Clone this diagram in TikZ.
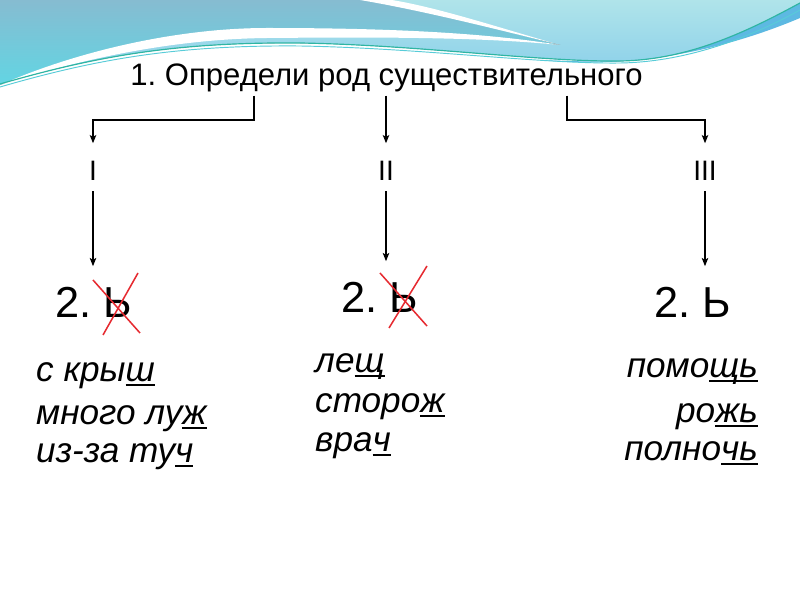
\documentclass[tikz,border=0pt]{standalone}
\usepackage{fontspec}
\setmainfont{Liberation Sans}
\frenchspacing
\usetikzlibrary{arrows.meta, positioning, calc}
\definecolor{tealtop}{HTML}{86BCD1}
\definecolor{cyanlow}{HTML}{62D5E3}
\definecolor{skylight}{HTML}{B0E4EA}
\definecolor{skyblue}{HTML}{86CDEA}
\definecolor{bandblue}{HTML}{5DB9E2}
\definecolor{waveline}{HTML}{2FB5A3}
\definecolor{waveline2}{HTML}{58CCD8}
\definecolor{crossred}{HTML}{E62A30}
\newcommand{\und}[1]{\setbox0\hbox{#1}\rlap{\rule[-0.12em]{\wd0}{0.06em}}\box0}
\tikzset{
  heading/.style={font=\fontsize{26.5}{30}\selectfont, inner sep=0pt, text depth=8pt},
  numeral/.style={font=\fontsize{24}{28}\selectfont, inner sep=0pt, text height=32pt, text depth=8.5pt},
  rule2/.style={font=\fontsize{37}{44}\selectfont, inner sep=0pt, text height=44pt, text depth=0pt},
  word/.style={font=\fontsize{30}{34}\selectfont\itshape, inner sep=0pt},
  arrow/.style={-{Stealth[length=7pt, width=5.5pt, inset=1.5pt]}, line width=1.1pt, black},
  cross/.style={crossred, line width=1.3pt},
}
\begin{document}
\begin{tikzpicture}[x=0.03cm, y=-0.03cm]
% backdrop with waves
\useasboundingbox (0,0) rectangle (800,600);
\fill[white] (0,0) rectangle (800,600);
\fill[top color=skylight, bottom color=skyblue] (0,0) -- (800,0) -- (800,3)
  .. controls (750,30) and (690,60) .. (620,61) .. controls (540,62) and (420,45) .. (300,43)
  .. controls (180,42) and (100,55) .. (0,84) -- cycle;
\fill[top color=tealtop, bottom color=cyanlow] (0,0) -- (375,0)
  .. controls (440,12) and (500,30) .. (560,45) .. controls (480,34) and (380,32) .. (267,33)
  .. controls (180,33) and (85,52) .. (0,85) -- cycle;
\fill[white] (360,0) .. controls (420,10) and (500,30) .. (560,45)
  .. controls (500,28) and (440,8) .. (392,0) -- cycle;
\fill[white] (0,85) .. controls (80,50) and (180,28) .. (267,28) .. controls (380,28) and (480,32) .. (560,45)
  .. controls (480,37) and (380,37) .. (267,38) .. controls (180,39) and (90,56) .. (0,85) -- cycle;
\fill[bandblue] (540,60) .. controls (620,68) and (710,56) .. (800,18) -- (800,3)
  .. controls (750,30) and (690,60) .. (620,61) .. controls (590,62) and (565,61) .. (540,60) -- cycle;
\draw[waveline, line width=1pt] (0,84) .. controls (100,55) and (180,42) .. (300,43)
  .. controls (420,45) and (540,62) .. (620,61) .. controls (690,60) and (750,30) .. (800,3);
\draw[waveline2, line width=0.8pt] (0,87) .. controls (100,58) and (180,45) .. (300,46)
  .. controls (420,48) and (540,64) .. (620,63) .. controls (690,62) and (755,35) .. (800,10);

% heading and genders
\node[heading, anchor=base] (title) at (386.5,86) {1. Определи род существительного};
\node[numeral, anchor=base] (gI) at (93,181) {I};
\node[numeral, anchor=base] (gII) at (386,181) {II};
\node[numeral, anchor=base] (gIII) at (705,181) {III};
\coordinate (kI) at (254,120);
\coordinate (kIII) at (567,120);
\draw[arrow] (title.south -| kI) -- (kI) -| (gI.north);
\draw[arrow] (title.south -| gII.north) -- (gII.north);
\draw[arrow] (title.south -| kIII) -- (kIII) -| (gIII.north);

% soft sign rule
\node[rule2, anchor=base] (nI) at (93.5,318) {2. Ь};
\node[rule2, anchor=base] (nII) at (380,313) {2. Ь};
\node[rule2, anchor=base] (nIII) at (693,318) {2. Ь};
\draw[arrow] (gI.south) -- (gI.south |- nI.north);
\draw[arrow] (gII.south) -- (gII.south |- nII.north);
\draw[arrow] (gIII.south) -- (gIII.south |- nIII.north);
\draw[cross] (93,280) -- (140,333);
\draw[cross] (138,273) -- (103,335);
\draw[cross] (380,273) -- (427,326);
\draw[cross] (427,266) -- (389,328);

% examples
\node[word, anchor=base west] (wI1) at (36,382) {с кры\und{ш}};
\node[word, anchor=base west] (wI2) at (36,425) {много лу\und{ж}};
\node[word, anchor=base west] (wI3) at (36,463) {из-за ту\und{ч}};
\node[word, anchor=base west] (wII1) at (315,373) {ле\und{щ}};
\node[word, anchor=base west] (wII2) at (315,413) {сторо\und{ж}};
\node[word, anchor=base west] (wII3) at (315,452) {вра\und{ч}};
\node[word, anchor=base east] (wIII1) at (758,378) {помо\und{щь}};
\node[word, anchor=base east] (wIII2) at (758,423) {ро\und{жь}};
\node[word, anchor=base east] (wIII3) at (758,461) {полно\und{чь}};
\end{tikzpicture}
\end{document}
